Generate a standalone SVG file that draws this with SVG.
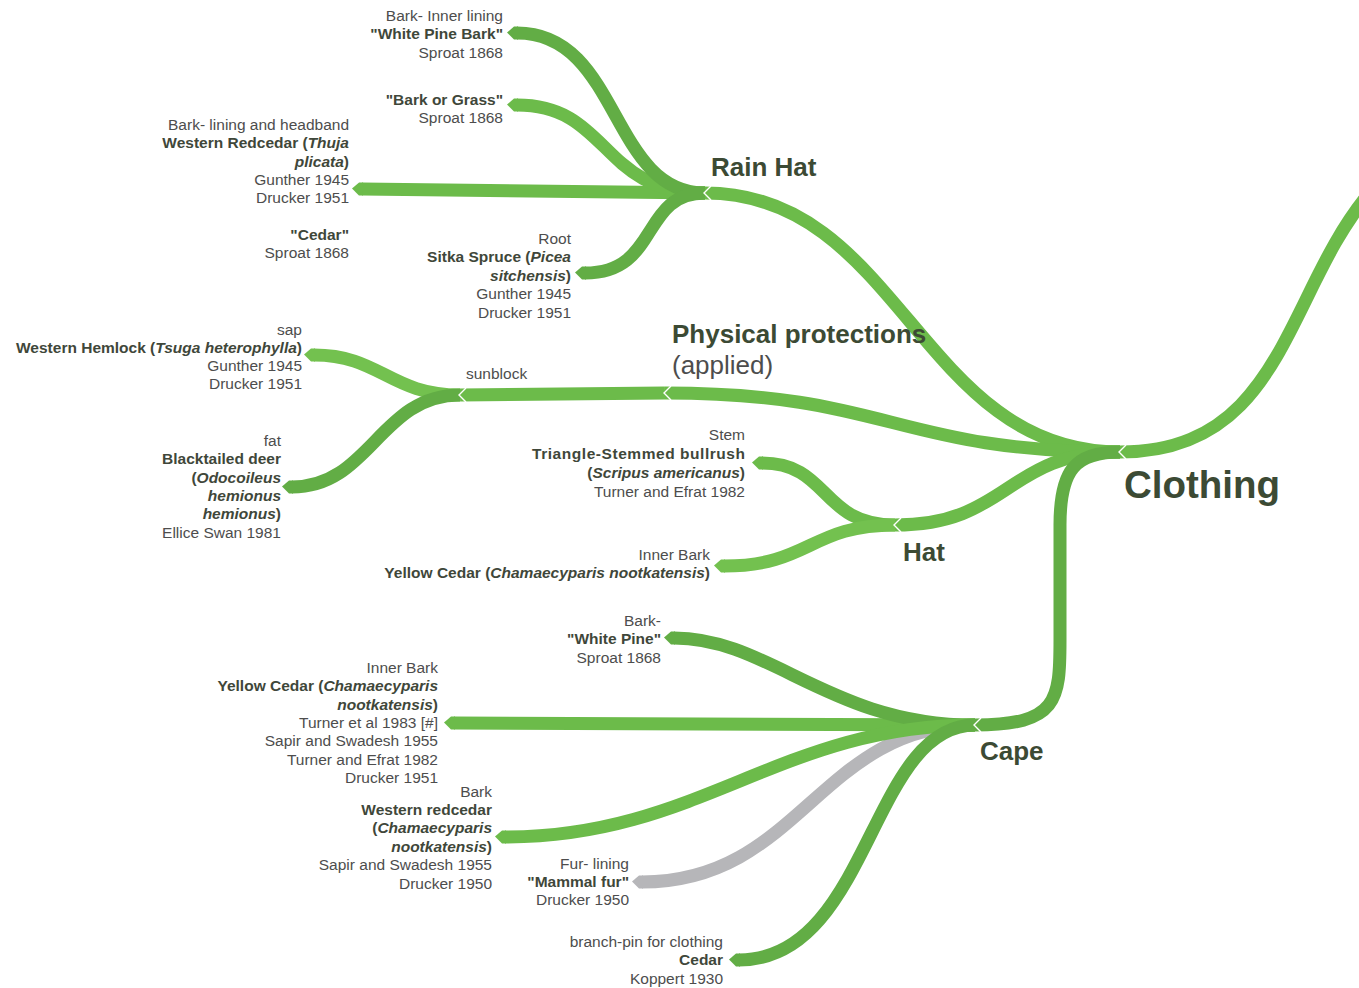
<svg xmlns="http://www.w3.org/2000/svg" width="1359" height="988" viewBox="0 0 1359 988">
  <style>
    .br { fill: none; stroke-width: 13; stroke-linecap: butt; }
    .g1 { stroke: #6cbb4a; marker-end: url(#tipG1); }
    .g2 { stroke: #62ad45; marker-end: url(#tipG2); }
    .g3 { stroke: #73c14f; marker-end: url(#tipG3); }
    .gr { stroke: #b6b6b9; marker-end: url(#tipGr); }
    .trunk { stroke: #6cbb4a; }
    .trunk2 { stroke: #62ad45; }
    .notch { fill: none; stroke: #ffffff; stroke-width: 1.4; }
    text { font-family: "Liberation Sans", Arial, sans-serif; }
    .lbl { font-size: 15.5px; fill: #4d4d4d; text-anchor: end; }
    .b { font-weight: bold; fill: #3f473a; }
    .i { font-style: italic; }
    .title { font-size: 26px; font-weight: bold; fill: #3c4a34; }
    .sub { font-size: 26px; fill: #4d4d4d; }
    .root { font-size: 38.5px; font-weight: bold; fill: #3c4a34; }
  </style>
  <defs>
    <marker id="tipG1" markerUnits="userSpaceOnUse" orient="auto" overflow="visible" markerWidth="20" markerHeight="20" refX="0" refY="0">
      <path d="M-1,-6.5 L3,-6.5 L10,0.5 L3,6.5 L-1,6.5 Z" fill="#6cbb4a"/>
    </marker>
    <marker id="tipG2" markerUnits="userSpaceOnUse" orient="auto" overflow="visible" markerWidth="20" markerHeight="20" refX="0" refY="0">
      <path d="M-1,-6.5 L3,-6.5 L10,0.5 L3,6.5 L-1,6.5 Z" fill="#62ad45"/>
    </marker>
    <marker id="tipG3" markerUnits="userSpaceOnUse" orient="auto" overflow="visible" markerWidth="20" markerHeight="20" refX="0" refY="0">
      <path d="M-1,-6.5 L3,-6.5 L10,0.5 L3,6.5 L-1,6.5 Z" fill="#73c14f"/>
    </marker>
    <marker id="tipGr" markerUnits="userSpaceOnUse" orient="auto" overflow="visible" markerWidth="20" markerHeight="20" refX="0" refY="0">
      <path d="M-1,-6.5 L3,-6.5 L10,0.5 L3,6.5 L-1,6.5 Z" fill="#b6b6b9"/>
    </marker>
  </defs>

  <rect width="1359" height="988" fill="#ffffff"/>

  <!-- branches -->
  <g id="connectors">
    <!-- root stem -->
    <path class="br trunk" d="M1120,452 C1285,452 1285,290 1372,190"/>
    <!-- first level -->
    <path class="br trunk" d="M705,193 C900,193 920,452 1120,452"/>
    <path class="br trunk" d="M665,393 C890,393 895,452 1120,452"/>
    <path class="br trunk" d="M895,525 C1010,525 1005,452 1120,452"/>
    <path class="br trunk2" d="M975,725 C1058,725 1060,700 1060,640 L1060,525 C1060,470 1075,452 1120,452"/>
    <!-- rain hat -->
    <path class="br g1" d="M705,193 L362,189"/>
    <path class="br g1" d="M705,193 C600,193 610,105 517,105"/>
    <path class="br g2" d="M705,193 C610,193 620,33 517,33"/>
    <path class="br g2" d="M705,193 C640,193 660,273 585,273"/>
    <!-- physical protections -->
    <path class="br trunk" d="M665,393 L460,395"/>
    <path class="br g3" d="M460,395 C390,395 380,355 314,355"/>
    <path class="br g2" d="M460,395 C380,395 370,487 292,487"/>
    <!-- hat -->
    <path class="br g1" d="M895,525 C820,525 830,463 762,463"/>
    <path class="br g3" d="M895,525 C810,525 810,566 724,566"/>
    <!-- cape -->
    <path class="br gr" d="M975,725 C820,725 800,882 642,882"/>
    <path class="br g1" d="M975,725 L454,723"/>
    <path class="br g2" d="M975,725 C830,725 770,638 674,638"/>
    <path class="br g1" d="M975,725 C780,725 700,837 505,837"/>
    <path class="br g2" d="M975,725 C870,725 870,960 739,960"/>
    <!-- junction notches -->
    <polyline class="notch" points="1126,445 1119,452 1126,459"/>
    <polyline class="notch" points="711,186 704,193 711,200"/>
    <polyline class="notch" points="671,386 664,393 671,400"/>
    <polyline class="notch" points="466,388 459,395 466,402"/>
    <polyline class="notch" points="901,518 894,525 901,532"/>
    <polyline class="notch" points="981,718 974,725 981,732"/>
  </g>

  <!-- nodes -->
  <g id="clothing"><text class="root" x="1124" y="498">Clothing</text></g>
  <g id="rain-hat"><text class="title" x="711" y="176">Rain Hat</text></g>
  <g id="physical-protections">
    <text class="title" x="672" y="343">Physical protections</text>
    <text class="sub" x="672" y="374">(applied)</text>
  </g>
  <g id="hat"><text class="title" x="903" y="561">Hat</text></g>
  <g id="cape"><text class="title" x="980" y="760">Cape</text></g>

  <g id="white-pine-bark">
    <text class="lbl" x="503" y="21">Bark- Inner lining</text>
    <text class="lbl b" x="503" y="39">"White Pine Bark"</text>
    <text class="lbl" x="503" y="58">Sproat 1868</text>
  </g>
  <g id="bark-or-grass">
    <text class="lbl b" x="503" y="105">"Bark or Grass"</text>
    <text class="lbl" x="503" y="123">Sproat 1868</text>
  </g>
  <g id="western-redcedar-hat">
    <text class="lbl" x="349" y="130">Bark- lining and headband</text>
    <text class="lbl b" x="349" y="148">Western Redcedar (<tspan class="i">Thuja</tspan></text>
    <text class="lbl b" x="349" y="167"><tspan class="i">plicata</tspan>)</text>
    <text class="lbl" x="349" y="185">Gunther 1945</text>
    <text class="lbl" x="349" y="203">Drucker 1951</text>
  </g>
  <g id="cedar-hat">
    <text class="lbl b" x="349" y="240">"Cedar"</text>
    <text class="lbl" x="349" y="258">Sproat 1868</text>
  </g>
  <g id="sitka-spruce">
    <text class="lbl" x="571" y="244">Root</text>
    <text class="lbl b" x="571" y="262">Sitka Spruce (<tspan class="i">Picea</tspan></text>
    <text class="lbl b" x="571" y="281"><tspan class="i">sitchensis</tspan>)</text>
    <text class="lbl" x="571" y="299">Gunther 1945</text>
    <text class="lbl" x="571" y="318">Drucker 1951</text>
  </g>
  <g id="sunblock"><text class="lbl" x="466" y="379" style="text-anchor:start">sunblock</text></g>
  <g id="western-hemlock">
    <text class="lbl" x="302" y="335">sap</text>
    <text class="lbl b" x="302" y="353">Western Hemlock (<tspan class="i">Tsuga heterophylla</tspan>)</text>
    <text class="lbl" x="302" y="371">Gunther 1945</text>
    <text class="lbl" x="302" y="389">Drucker 1951</text>
  </g>
  <g id="blacktailed-deer">
    <text class="lbl" x="281" y="446">fat</text>
    <text class="lbl b" x="281" y="464">Blacktailed deer</text>
    <text class="lbl b" x="281" y="483">(<tspan class="i">Odocoileus</tspan></text>
    <text class="lbl b" x="281" y="501"><tspan class="i">hemionus</tspan></text>
    <text class="lbl b" x="281" y="519"><tspan class="i">hemionus</tspan>)</text>
    <text class="lbl" x="281" y="538">Ellice Swan 1981</text>
  </g>
  <g id="bullrush">
    <text class="lbl" x="745" y="440">Stem</text>
    <text class="lbl b" x="745" y="459" textLength="213" lengthAdjust="spacing">Triangle-Stemmed bullrush</text>
    <text class="lbl b" x="745" y="478">(<tspan class="i">Scripus americanus</tspan>)</text>
    <text class="lbl" x="745" y="497">Turner and Efrat 1982</text>
  </g>
  <g id="yellow-cedar-hat">
    <text class="lbl" x="710" y="560">Inner Bark</text>
    <text class="lbl b" x="710" y="578">Yellow Cedar (<tspan class="i">Chamaecyparis nootkatensis</tspan>)</text>
  </g>
  <g id="white-pine-cape">
    <text class="lbl" x="661" y="626">Bark-</text>
    <text class="lbl b" x="661" y="644">"White Pine"</text>
    <text class="lbl" x="661" y="663">Sproat 1868</text>
  </g>
  <g id="yellow-cedar-cape">
    <text class="lbl" x="438" y="673">Inner Bark</text>
    <text class="lbl b" x="438" y="691">Yellow Cedar (<tspan class="i">Chamaecyparis</tspan></text>
    <text class="lbl b" x="438" y="710"><tspan class="i">nootkatensis</tspan>)</text>
    <text class="lbl" x="438" y="728">Turner et al 1983 [#]</text>
    <text class="lbl" x="438" y="746">Sapir and Swadesh 1955</text>
    <text class="lbl" x="438" y="765">Turner and Efrat 1982</text>
    <text class="lbl" x="438" y="783">Drucker 1951</text>
  </g>
  <g id="western-redcedar-cape">
    <text class="lbl" x="492" y="797">Bark</text>
    <text class="lbl b" x="492" y="815">Western redcedar</text>
    <text class="lbl b" x="492" y="833">(<tspan class="i">Chamaecyparis</tspan></text>
    <text class="lbl b" x="492" y="852"><tspan class="i">nootkatensis</tspan>)</text>
    <text class="lbl" x="492" y="870">Sapir and Swadesh 1955</text>
    <text class="lbl" x="492" y="889">Drucker 1950</text>
  </g>
  <g id="mammal-fur">
    <text class="lbl" x="629" y="869">Fur- lining</text>
    <text class="lbl b" x="629" y="887">"Mammal fur"</text>
    <text class="lbl" x="629" y="905">Drucker 1950</text>
  </g>
  <g id="cedar-pin">
    <text class="lbl" x="723" y="947">branch-pin for clothing</text>
    <text class="lbl b" x="723" y="965">Cedar</text>
    <text class="lbl" x="723" y="984">Koppert 1930</text>
  </g>
</svg>
